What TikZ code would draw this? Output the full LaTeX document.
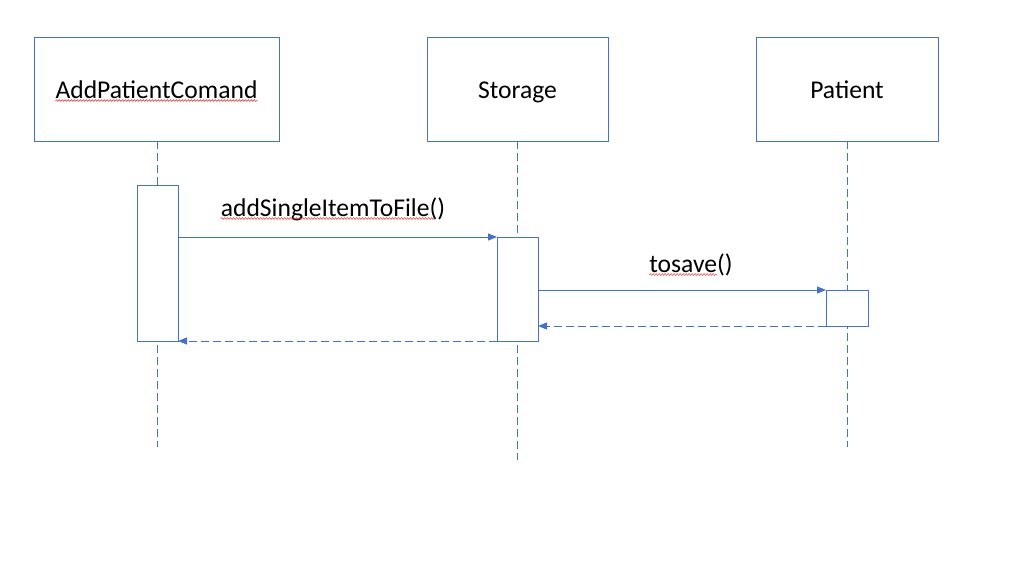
\documentclass[tikz,border=0pt]{standalone}
\usepackage{fontspec}
\setmainfont{Carlito}
\usetikzlibrary{arrows.meta,decorations.pathmorphing}
\definecolor{uml}{HTML}{4472C4}
\definecolor{spell}{HTML}{E03030}
\tikzset{
  objbox/.style={draw=uml, line width=0.9pt, fill=white, minimum width=#1, minimum height=104pt, inner sep=0pt},
  actbox/.style={draw=uml, line width=0.9pt, fill=white},
  life/.style={draw=uml, line width=0.8pt, dash pattern=on 8pt off 4pt},
  msg/.style={draw=uml, line width=0.9pt, -{Triangle[length=9pt,width=7pt]}},
  ret/.style={draw=uml, line width=0.9pt, dash pattern=on 8pt off 4pt, -{Triangle[length=9pt,width=7pt]}},
  lbl/.style={font=\fontsize{25.6}{30}\selectfont, inner sep=0pt},
  squiggle/.style={draw=spell, line width=0.5pt, decorate, decoration={snake, amplitude=0.9pt, segment length=3pt}}
}
\begin{document}
\begin{tikzpicture}[x=1pt,y=-1pt]
\useasboundingbox (0,0) rectangle (1016,578);
% lifelines
\coordinate (l1t) at (157,141); \coordinate (l1b) at (157,447);
\coordinate (l2t) at (517,141); \coordinate (l2b) at (517,460);
\coordinate (l3t) at (847,141); \coordinate (l3b) at (847,447);
\draw[life] (l1t) -- (l1b);
\draw[life] (l2t) -- (l2b);
\draw[life] (l3t) -- (l3b);
% objects
\node[objbox=245pt] (c1) at (156.5,89) {};
\node[objbox=181pt] (c2) at (517.5,89) {};
\node[objbox=182pt] (c3) at (847,89) {};
\node[lbl, anchor=base] (t1) at (156.5,98) {AddPatientComand};
\node[lbl, anchor=base] (t2) at (517.5,98) {Storage};
\node[lbl, anchor=base] (t3) at (847,98) {Patient};
\draw[squiggle] ([yshift=-2.5pt]t1.base west) -- ([yshift=-2.5pt]t1.base east);
% activations
\node[actbox, minimum width=41pt, minimum height=156pt, inner sep=0pt] (a1) at (157.5,263) {};
\node[actbox, minimum width=41pt, minimum height=104pt, inner sep=0pt] (a2) at (517.5,289) {};
\node[actbox, minimum width=42pt, minimum height=36pt, inner sep=0pt] (a3) at (847,308) {};
% messages
\coordinate (m1s) at (178,237); \coordinate (m1e) at (497,237);
\coordinate (m2s) at (538,290); \coordinate (m2e) at (826,290);
\coordinate (r1s) at (826,326); \coordinate (r1e) at (538,326);
\coordinate (r2s) at (497,341); \coordinate (r2e) at (178,341);
\draw[msg] (m1s) -- (m1e);
\draw[msg] (m2s) -- (m2e);
\draw[ret] (r1s) -- (r1e);
\draw[ret] (r2s) -- (r2e);
\node[lbl, anchor=base] (L1) at (333,216) {addSingleItemToFile()};
\node[lbl, anchor=base] (L2) at (691,272) {tosave()};
\draw[squiggle] ([yshift=-2.5pt]L1.base west) -- ([xshift=-11pt,yshift=-2.5pt]L1.base east);
\draw[squiggle] ([yshift=-2.5pt]L2.base west) -- ([xshift=-16pt,yshift=-2.5pt]L2.base east);
\end{tikzpicture}
\end{document}
